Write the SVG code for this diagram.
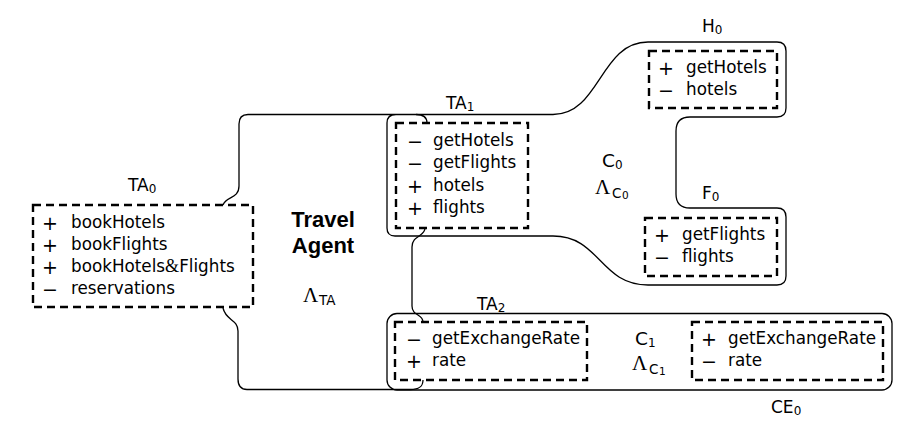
<svg xmlns="http://www.w3.org/2000/svg" width="917" height="438" viewBox="0 0 917 438">
<style>
.dash{fill:none;stroke:#000;stroke-width:2.4;stroke-dasharray:8,5}
.line{fill:none;stroke:#000;stroke-width:1.3}
.t{font-family:"DejaVu Sans",sans-serif;font-size:16.8px;fill:#000}
.sym{font-family:"DejaVu Sans",sans-serif;font-size:19px;fill:#000}
.lbl{font-family:"DejaVu Sans",sans-serif;font-size:17px;fill:#000}
.big{font-family:"DejaVu Sans",sans-serif;font-size:18.5px;fill:#000}
.sub{font-size:12px}
.bold{font-family:"Liberation Sans",Arial,sans-serif;font-weight:bold;font-size:22px;fill:#000}
.lam{font-family:"Liberation Serif","Times New Roman",serif;font-size:21px;fill:#000}
.s13{font-family:"DejaVu Sans",sans-serif;font-size:13.5px;fill:#000}
.s10{font-family:"DejaVu Sans",sans-serif;font-size:10.5px;fill:#000}
.amp{font-family:"Liberation Serif",serif;font-size:18px}
</style>
<rect width="917" height="438" fill="#fff"/>
<g id="connectors">
<path class="line" d="M223,205 C226,196 239,199 239,186 V124 Q239,114.5 248,114.5 H553 C600,114.5 600,42 648,42 H777 Q786,42 786,51 V108 Q786,117 777,117 H690 Q676,117 676,131 V194 Q676,208 690,208 H777 Q786,208 786,217 V276 Q786,285 777,285 H648 C600,285 600,236 553,236 H395 Q387,236 387,228 V123 Q387,114.5 396,114.5"/>
<path class="line" d="M416,114.5 C424,114.5 427,118 427,123"/>
<path class="line" d="M425,228 C425,237 412,235 412,247 V306 C412,316 423,314 423,322"/>
<path class="line" d="M423,380 C423,387 419,389.5 410,389.5 H247 Q238,389.5 238,379 V331 C238,319 226,321 223,308"/>
<rect class="line" x="387" y="313.5" width="505" height="76.5" rx="10"/>
</g>
<g id="TA0">
<rect class="dash" x="33" y="205" width="220" height="102"/>
<text class="lbl" x="128" y="191">TA<tspan class="sub" dy="2">0</tspan></text>
<text class="sym" x="42" y="229.5">+</text><text class="t" x="71" y="228">bookHotels</text>
<text class="sym" x="42" y="251.5">+</text><text class="t" x="71" y="250">bookFlights</text>
<text class="sym" x="42" y="273.5">+</text><text class="t" x="71" y="272">bookHotels<tspan class="amp">&amp;</tspan>Flights</text>
<text class="sym" x="42" y="295.5">−</text><text class="t" x="71" y="294">reservations</text>
</g>
<g id="TravelAgent">
<text class="bold" x="323" y="227" text-anchor="middle">Travel</text>
<text class="bold" x="323" y="253" text-anchor="middle">Agent</text>
<text class="lam" x="303" y="302">Λ</text><text class="s13" x="319" y="305">TA</text>
</g>
<g id="TA1">
<rect class="dash" x="396" y="123" width="132" height="105"/>
<text class="lbl" x="446" y="109">TA<tspan class="sub" dy="2">1</tspan></text>
<text class="sym" x="407" y="147.5">−</text><text class="t" x="433" y="146">getHotels</text>
<text class="sym" x="407" y="169.5">−</text><text class="t" x="433" y="168">getFlights</text>
<text class="sym" x="407" y="192.5">+</text><text class="t" x="433" y="191">hotels</text>
<text class="sym" x="407" y="214.5">+</text><text class="t" x="433" y="213">flights</text>
</g>
<g id="C0">
<text class="big" x="602" y="167">C<tspan class="sub" dy="2">0</tspan></text>
<text class="lam" x="595" y="194">Λ</text><text class="s13" x="612" y="198">C</text><text class="s10" x="622" y="199">0</text>
</g>
<g id="H0">
<rect class="dash" x="649" y="51" width="128" height="57"/>
<text class="lbl" x="702" y="32">H<tspan class="sub" dy="2">0</tspan></text>
<text class="sym" x="658" y="74.5">+</text><text class="t" x="686" y="73">getHotels</text>
<text class="sym" x="658" y="96.5">−</text><text class="t" x="686" y="95">hotels</text>
</g>
<g id="F0">
<rect class="dash" x="645" y="218" width="132" height="58"/>
<text class="lbl" x="702" y="199">F<tspan class="sub" dy="2">0</tspan></text>
<text class="sym" x="654" y="241.5">+</text><text class="t" x="682" y="240">getFlights</text>
<text class="sym" x="654" y="263.5">−</text><text class="t" x="682" y="262">flights</text>
</g>
<g id="TA2">
<rect class="dash" x="395" y="322" width="192" height="58"/>
<text class="lbl" x="477" y="310">TA<tspan class="sub" dy="2">2</tspan></text>
<text class="sym" x="406" y="345.5">−</text><text class="t" x="432" y="344">getExchangeRate</text>
<text class="sym" x="406" y="367.5">+</text><text class="t" x="432" y="366">rate</text>
</g>
<g id="C1">
<text class="big" x="635" y="345">C<tspan class="sub" dy="2">1</tspan></text>
<text class="lam" x="632" y="370">Λ</text><text class="s13" x="649" y="374">C</text><text class="s10" x="659" y="375">1</text>
</g>
<g id="CE0">
<rect class="dash" x="692" y="322" width="191" height="58"/>
<text class="lbl" x="771" y="413">CE<tspan class="sub" dy="2">0</tspan></text>
<text class="sym" x="701" y="345.5">+</text><text class="t" x="728" y="344">getExchangeRate</text>
<text class="sym" x="701" y="367.5">−</text><text class="t" x="728" y="366">rate</text>
</g>
</svg>
